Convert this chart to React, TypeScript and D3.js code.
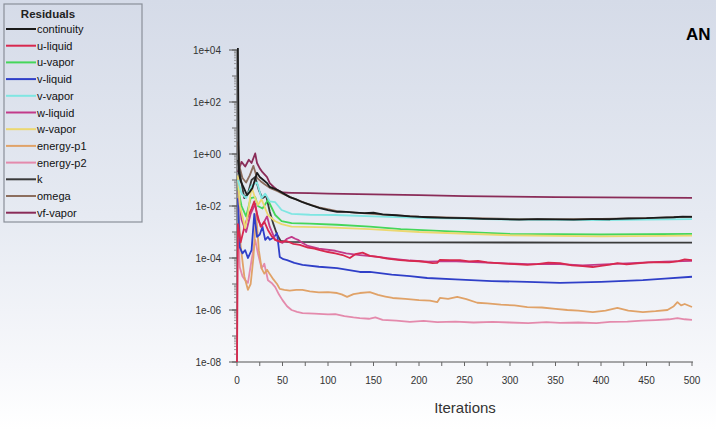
import React from "react";
import * as d3 from "d3";

type Pt = [number, number];

const seriesNames = ["continuity","u-liquid","u-vapor","v-liquid","v-vapor","w-liquid","w-vapor","energy-p1","energy-p2","k","omega","vf-vapor"];
const seriesColors = ["#1a1a1a","#d8284e","#45d65a","#2f3fc8","#7fe6e2","#c23a8a","#ecd870","#e0a268","#e48aac","#3a3a3a","#8c6e5e","#8a2c58"];

const yTickValues = [1e4, 1e2, 1, 1e-2, 1e-4, 1e-6, 1e-8];
const yTickLabels = ["1e+04","1e+02","1e+00","1e-02","1e-04","1e-06","1e-08"];
const xTickValues = [0,50,100,150,200,250,300,350,400,450,500];
const xMinorTicks = [0,25,50,75,100,125,150,175,200,225,250,275,300,325,350,375,400,425,450,475,500];

const continuity: Pt[] = [[1,1.2e4],[2,0.19],[4,0.09],[7,5.4e-2],[11,2.6e-2],[14,3.5e-2],[17,4.9e-2],[22,0.19],[25,0.13],[29,0.1],[33,7.6e-2],[36,5.4e-2],[40,4.8e-2],[44,4.2e-2],[50,3.2e-2],[58,2.2e-2],[65,1.8e-2],[72,1.4e-2],[82,1.05e-2],[91,8.3e-3],[100,7e-3],[110,6e-3],[120,5.9e-3],[130,5.6e-3],[140,5.3e-3],[150,5.5e-3],[160,4.8e-3],[175,4.4e-3],[190,4.0e-3],[210,3.7e-3],[230,3.5e-3],[250,3.4e-3],[270,3.2e-3],[290,3.1e-3],[310,3.0e-3],[330,3.1e-3],[350,3.05e-3],[370,3.0e-3],[390,3.1e-3],[410,3.1e-3],[430,3.3e-3],[450,3.4e-3],[465,3.6e-3],[480,3.7e-3],[490,3.9e-3],[500,3.8e-3]];
const uLiquid: Pt[] = [[0,1e-8],[1,2e-3],[4,4e-4],[8,1.5e-3],[12,4e-3],[16,8e-3],[19,1.5e-2],[22,5e-3],[26,1.6e-3],[30,2.5e-3],[34,1.2e-3],[38,7e-4],[42,5e-4],[48,4.2e-4],[55,4.4e-4],[62,3.5e-4],[69,3.2e-4],[78,2.5e-4],[85,2.3e-4],[91,2.0e-4],[100,1.7e-4],[108,1.5e-4],[116,1.3e-4],[124,1.0e-4],[130,1.4e-4],[138,1.6e-4],[146,1.2e-4],[155,1.1e-4],[165,9.5e-5],[179,8.3e-5],[190,7.8e-5],[200,7.5e-5],[208,7e-5],[215,6.3e-5],[220,6.5e-5],[223,8.5e-5],[234,8.3e-5],[245,8.3e-5],[255,7.4e-5],[265,7.8e-5],[275,6.8e-5],[290,6.2e-5],[305,5.8e-5],[319,5.4e-5],[330,5.8e-5],[342,6.6e-5],[355,6.3e-5],[368,5.2e-5],[380,4.9e-5],[391,4.5e-5],[400,5.0e-5],[410,5.6e-5],[418,6.3e-5],[428,5.7e-5],[440,6.2e-5],[452,6.8e-5],[465,7e-5],[475,6.8e-5],[485,7.6e-5],[492,8.8e-5],[500,8.3e-5]];
const uVapor: Pt[] = [[1,5e-2],[5,1e-2],[10,4e-3],[15,2e-2],[20,2.2e-2],[23,1e-2],[28,8e-3],[34,1.7e-2],[42,4.5e-3],[49,2.6e-3],[60,2.2e-3],[80,2.1e-3],[110,1.9e-3],[146,1.6e-3],[180,1.3e-3],[234,1.05e-3],[300,8.5e-4],[400,8e-4],[500,8.5e-4]];
const vLiquid: Pt[] = [[1,2e-2],[3,2.6e-4],[6,1.5e-4],[9,2e-4],[12,1e-4],[16,2e-4],[19,5e-3],[22,6.5e-4],[25,8e-4],[28,1.6e-3],[31,5e-4],[34,6.5e-4],[36,5e-4],[40,6e-4],[44,9e-4],[47,1.1e-4],[51,9e-5],[55,8.3e-5],[63,6.5e-5],[72,5.4e-5],[90,4.6e-5],[110,4.1e-5],[135,2.9e-5],[146,2.9e-5],[170,2.3e-5],[190,2e-5],[209,1.7e-5],[240,1.5e-5],[280,1.3e-5],[319,1.2e-5],[355,1.1e-5],[400,1.2e-5],[446,1.4e-5],[470,1.6e-5],[500,1.9e-5]];
const vVapor: Pt[] = [[1,0.1],[5,3e-2],[10,2e-2],[16,6e-2],[22,8e-2],[27,2e-2],[31,3e-2],[36,1.5e-2],[42,1.4e-2],[49,7e-3],[60,5e-3],[80,4.6e-3],[108,4.5e-3],[150,4e-3],[200,3.5e-3],[300,3.0e-3],[400,2.9e-3],[500,3.1e-3]];
const wLiquid: Pt[] = [[1,5e-2],[5,3e-3],[10,1e-3],[15,5e-3],[20,1.2e-2],[23,3e-3],[27,1.6e-3],[33,4e-3],[36,1.6e-3],[42,5e-4],[50,3.8e-4],[55,5.5e-4],[60,6.5e-4],[64,5.5e-4],[67,5e-4],[72,3.8e-4],[78,2.9e-4],[90,2.3e-4],[108,1.9e-4],[120,1.5e-4],[135,1.3e-4],[150,1.15e-4],[170,9.5e-5],[190,8e-5],[210,7.2e-5],[235,7.6e-5],[260,7e-5],[290,6.3e-5],[320,5.8e-5],[350,5.9e-5],[380,5.2e-5],[410,5.8e-5],[440,6.5e-5],[470,7.2e-5],[500,7.8e-5]];
const wVapor: Pt[] = [[1,0.15],[3,1.1e-2],[9,1.4e-3],[12,5e-3],[16,5.4e-2],[20,2e-2],[23,1.1e-2],[27,1.8e-2],[34,4.5e-3],[42,2.6e-3],[49,2e-3],[60,1.6e-3],[100,1.5e-3],[146,1.3e-3],[200,1e-3],[300,7.5e-4],[400,6.8e-4],[500,7.2e-4]];
const energyP1: Pt[] = [[1,1.5e-2],[4,3e-4],[8,2e-5],[12,6e-6],[15,1e-5],[18,1e-4],[21,5e-3],[24,2e-4],[27,4e-5],[30,2.5e-5],[33,3.5e-5],[36,2.4e-5],[40,1.5e-5],[44,1e-5],[47,6.5e-6],[52,6e-6],[58,5.6e-6],[65,5.9e-6],[72,5.9e-6],[80,5.2e-6],[90,4.8e-6],[100,4.9e-6],[110,4.5e-6],[115,4.0e-6],[121,3.2e-6],[128,4.1e-6],[135,4.5e-6],[146,4.9e-6],[155,3.8e-6],[163,3.3e-6],[171,2.9e-6],[185,2.7e-6],[200,2.4e-6],[212,2.3e-6],[220,2.0e-6],[223,2.9e-6],[232,2.7e-6],[242,3.2e-6],[252,2.6e-6],[264,1.9e-6],[275,1.8e-6],[290,1.6e-6],[305,1.5e-6],[319,1.3e-6],[335,1.25e-6],[350,1.1e-6],[363,1.0e-6],[375,9.5e-7],[391,8.3e-7],[405,9.5e-7],[418,1.2e-6],[430,9.5e-7],[446,8.3e-7],[460,9e-7],[473,1.0e-6],[480,1.4e-6],[484,2.0e-6],[488,1.5e-6],[492,1.7e-6],[500,1.3e-6]];
const energyP2: Pt[] = [[1,2e-3],[3,4.5e-5],[6,2e-5],[9,1.4e-5],[12,1.1e-5],[16,8.3e-5],[20,5e-4],[23,1.5e-4],[27,4e-5],[30,6e-5],[34,1.4e-5],[38,1.1e-5],[42,7.6e-6],[46,4e-6],[50,2.4e-6],[55,1.4e-6],[60,1.0e-6],[66,8.5e-7],[72,7.6e-7],[85,7.2e-7],[100,6.8e-7],[108,7e-7],[118,5.8e-7],[128,5.2e-7],[135,4.9e-7],[145,4.6e-7],[152,5.2e-7],[160,4.2e-7],[175,3.9e-7],[190,3.5e-7],[205,3.8e-7],[220,3.4e-7],[240,3.6e-7],[260,3.3e-7],[281,3.5e-7],[300,3.3e-7],[320,3.1e-7],[340,3.4e-7],[355,3.2e-7],[375,3.3e-7],[395,3.1e-7],[410,3.5e-7],[429,3.6e-7],[445,3.9e-7],[460,4.1e-7],[475,4.4e-7],[484,4.9e-7],[492,4.4e-7],[500,4.2e-7]];
const kSeries: Pt[] = [[1,0.6],[4,0.12],[8,2e-2],[12,3e-2],[16,0.1],[20,0.13],[24,4e-2],[28,2e-2],[32,2.5e-2],[36,6e-3],[40,2e-3],[44,8e-4],[48,4.5e-4],[55,4.2e-4],[100,4.1e-4],[200,4.0e-4],[300,3.95e-4],[400,3.9e-4],[500,3.9e-4]];
const omega: Pt[] = [[1,3.0],[3,0.3],[6,0.12],[10,8e-2],[14,0.15],[18,0.35],[22,0.12],[26,9e-2],[30,7e-2],[36,5e-2],[44,3.8e-2],[50,3e-2],[60,2.1e-2],[75,1.3e-2],[90,8.8e-3],[110,6.3e-3],[130,5.6e-3],[160,4.7e-3],[200,3.9e-3],[250,3.5e-3],[300,3.2e-3],[350,3.1e-3],[400,3.2e-3],[450,3.4e-3],[500,3.9e-3]];
const vfVapor: Pt[] = [[1,0.2],[5,0.5],[9,0.33],[13,0.6],[16,0.45],[20,1.05],[22,0.45],[25,0.28],[28,0.2],[33,0.13],[36,7.6e-2],[40,5.5e-2],[44,4.2e-2],[50,3.3e-2],[60,3.2e-2],[80,3.1e-2],[100,3.0e-2],[150,2.8e-2],[200,2.6e-2],[250,2.4e-2],[300,2.3e-2],[350,2.2e-2],[400,2.15e-2],[450,2.1e-2],[500,2.05e-2]];

const seriesData: Pt[][] = [continuity, uLiquid, uVapor, vLiquid, vVapor, wLiquid, wVapor, energyP1, energyP2, kSeries, omega, vfVapor];
const drawOrder = [11, 10, 9, 8, 7, 3, 5, 1, 2, 6, 4, 0];

const W = 716, H = 430;
const FONT = "'Liberation Sans', Arial, sans-serif";

export default function App() {
  const x = d3.scaleLinear().domain([0, 500]).range([237, 692]);
  const y = d3.scaleLog().domain([1e-8, 1e4]).range([362, 50]);
  const line = d3.line<Pt>().x(d => x(d[0])).y(d => y(d[1]));

  const minorY: number[] = [];
  for (let e = -8; e < 4; e++) {
    for (let m = 2; m <= 9; m++) minorY.push(m * Math.pow(10, e));
  }
  const decadeY: number[] = [];
  for (let e = -8; e <= 4; e++) decadeY.push(Math.pow(10, e));

  const legendTop = 29, legendStep = 16.7;

  return (
    <svg width={W} height={H} style={{ position: "absolute", left: 0, top: 0 }} fontFamily={FONT}>
      <defs>
        <linearGradient id="bg" x1="0" y1="0" x2="0" y2="1">
          <stop offset="0" stopColor="#d5dbe8" />
          <stop offset="0.5" stopColor="#e6eaf2" />
          <stop offset="0.85" stopColor="#f7f8fb" />
          <stop offset="1" stopColor="#ffffff" />
        </linearGradient>
      </defs>
      <rect x={0} y={0} width={W} height={H} fill="url(#bg)" />

      {/* legend */}
      <rect x={4} y={4} width={138} height={218} fill="none" stroke="#8a8f99" strokeWidth={1.2} />
      <text x={48} y={18} fontSize={11.5} fontWeight="bold" fill="#222" textAnchor="middle">Residuals</text>
      {seriesNames.map((n, i) => (
        <g key={n}>
          <line x1={6} x2={36} y1={legendTop + i * legendStep} y2={legendTop + i * legendStep} stroke={seriesColors[i]} strokeWidth={2} />
          <text x={37} y={legendTop + i * legendStep + 4} fontSize={11} fill="#111">{n}</text>
        </g>
      ))}

      {/* logo text, cut by the window edge in the reference */}
      <text x={686} y={40} fontSize={17} fontWeight="bold" fill="#000">AN</text>

      {/* y axis */}
      <line x1={237} x2={237} y1={50} y2={362} stroke="#555" strokeWidth={1.2} />
      {minorY.map((v, i) => (
        <line key={"m" + i} x1={234} x2={237} y1={y(v)} y2={y(v)} stroke="#888" strokeWidth={0.8} />
      ))}
      {decadeY.map((v, i) => (
        <line key={"d" + i} x1={232} x2={237} y1={y(v)} y2={y(v)} stroke="#666" strokeWidth={1} />
      ))}
      {yTickValues.map((v, i) => (
        <g key={"yt" + i}>
          <line x1={229} x2={237} y1={y(v)} y2={y(v)} stroke="#555" strokeWidth={1} />
          <text x={221} y={y(v) + 3.5} fontSize={10} fill="#333" textAnchor="end">{yTickLabels[i]}</text>
        </g>
      ))}

      {/* x axis */}
      <line x1={237} x2={693} y1={362} y2={362} stroke="#555" strokeWidth={1.2} />
      {xMinorTicks.map(v => (
        <line key={"xm" + v} x1={x(v)} x2={x(v)} y1={362} y2={366} stroke="#666" strokeWidth={1} />
      ))}
      {xTickValues.map(v => (
        <text key={"xt" + v} x={x(v)} y={384} fontSize={10} fill="#333" textAnchor="middle">{v}</text>
      ))}
      <text x={465} y={413} fontSize={15} fill="#333" textAnchor="middle">Iterations</text>

      {/* series */}
      {drawOrder.map(i => (
        <path key={seriesNames[i]} d={line(seriesData[i]) || ""} fill="none" stroke={seriesColors[i]} strokeWidth={1.8} strokeLinejoin="round" />
      ))}
    </svg>
  );
}
